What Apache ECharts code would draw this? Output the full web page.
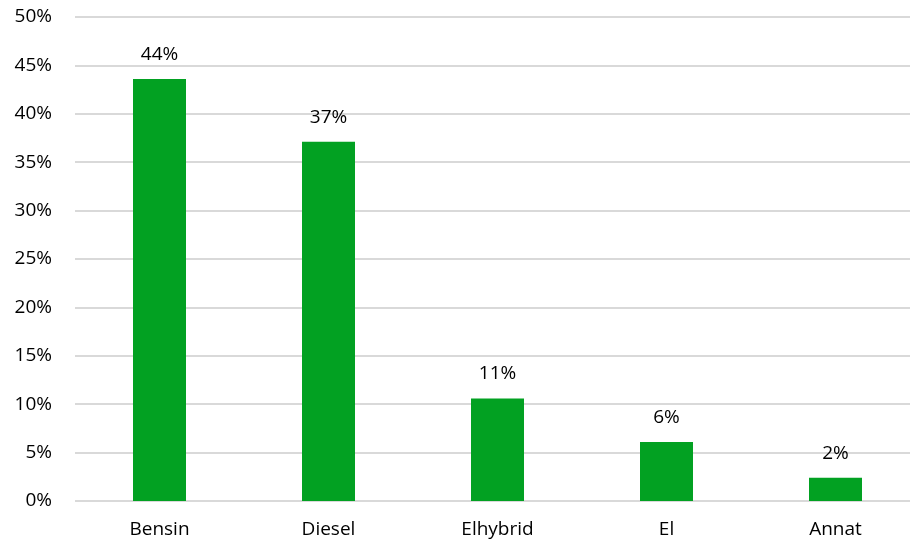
<!DOCTYPE html>
<html>
<head>
<meta charset="utf-8">
<script src="https://cdn.jsdelivr.net/npm/echarts@6/dist/echarts.min.js"></script>
<style>
    html, body { margin: 0; padding: 0; background: #fff; }
    #chart { width: 910px; height: 544px; }
</style>
</head>
<body>
<div id="chart"></div>
<script>
const categories = ["Bensin", "Diesel", "Elhybrid", "El", "Annat"];
const shares = [43.6, 37.1, 10.6, 6.1, 2.4];

const font = "'Open Sans', 'Liberation Sans', sans-serif";

const option = {
    animation: false,
    grid: {
        left: 75,
        width: 845,
        top: 17,
        bottom: 43,
        outerBoundsMode: "none"
    },
    xAxis: {
        type: "category",
        data: categories,
        axisLine: { show: false },
        axisTick: { show: false },
        axisLabel: {
            color: "#000",
            fontFamily: font,
            fontSize: 19,
            margin: 19
        }
    },
    yAxis: {
        type: "value",
        min: 0,
        max: 50,
        interval: 5,
        axisLabel: {
            color: "#000",
            fontFamily: font,
            fontSize: 19,
            margin: 23,
            formatter: v => v + "%"
        },
        splitLine: {
            lineStyle: { color: "#d9d9d9", width: 2 }
        }
    },
    series: [
        {
            type: "bar",
            data: shares,
            barWidth: 53,
            itemStyle: { color: "#02a122" },
            label: {
                show: true,
                position: "top",
                distance: 15,
                color: "#000",
                fontFamily: font,
                fontSize: 19,
                formatter: p => Math.round(p.value) + "%"
            }
        }
    ]
};

const chart = echarts.init(document.getElementById("chart"));
chart.setOption(option);
</script>
</body>
</html>
